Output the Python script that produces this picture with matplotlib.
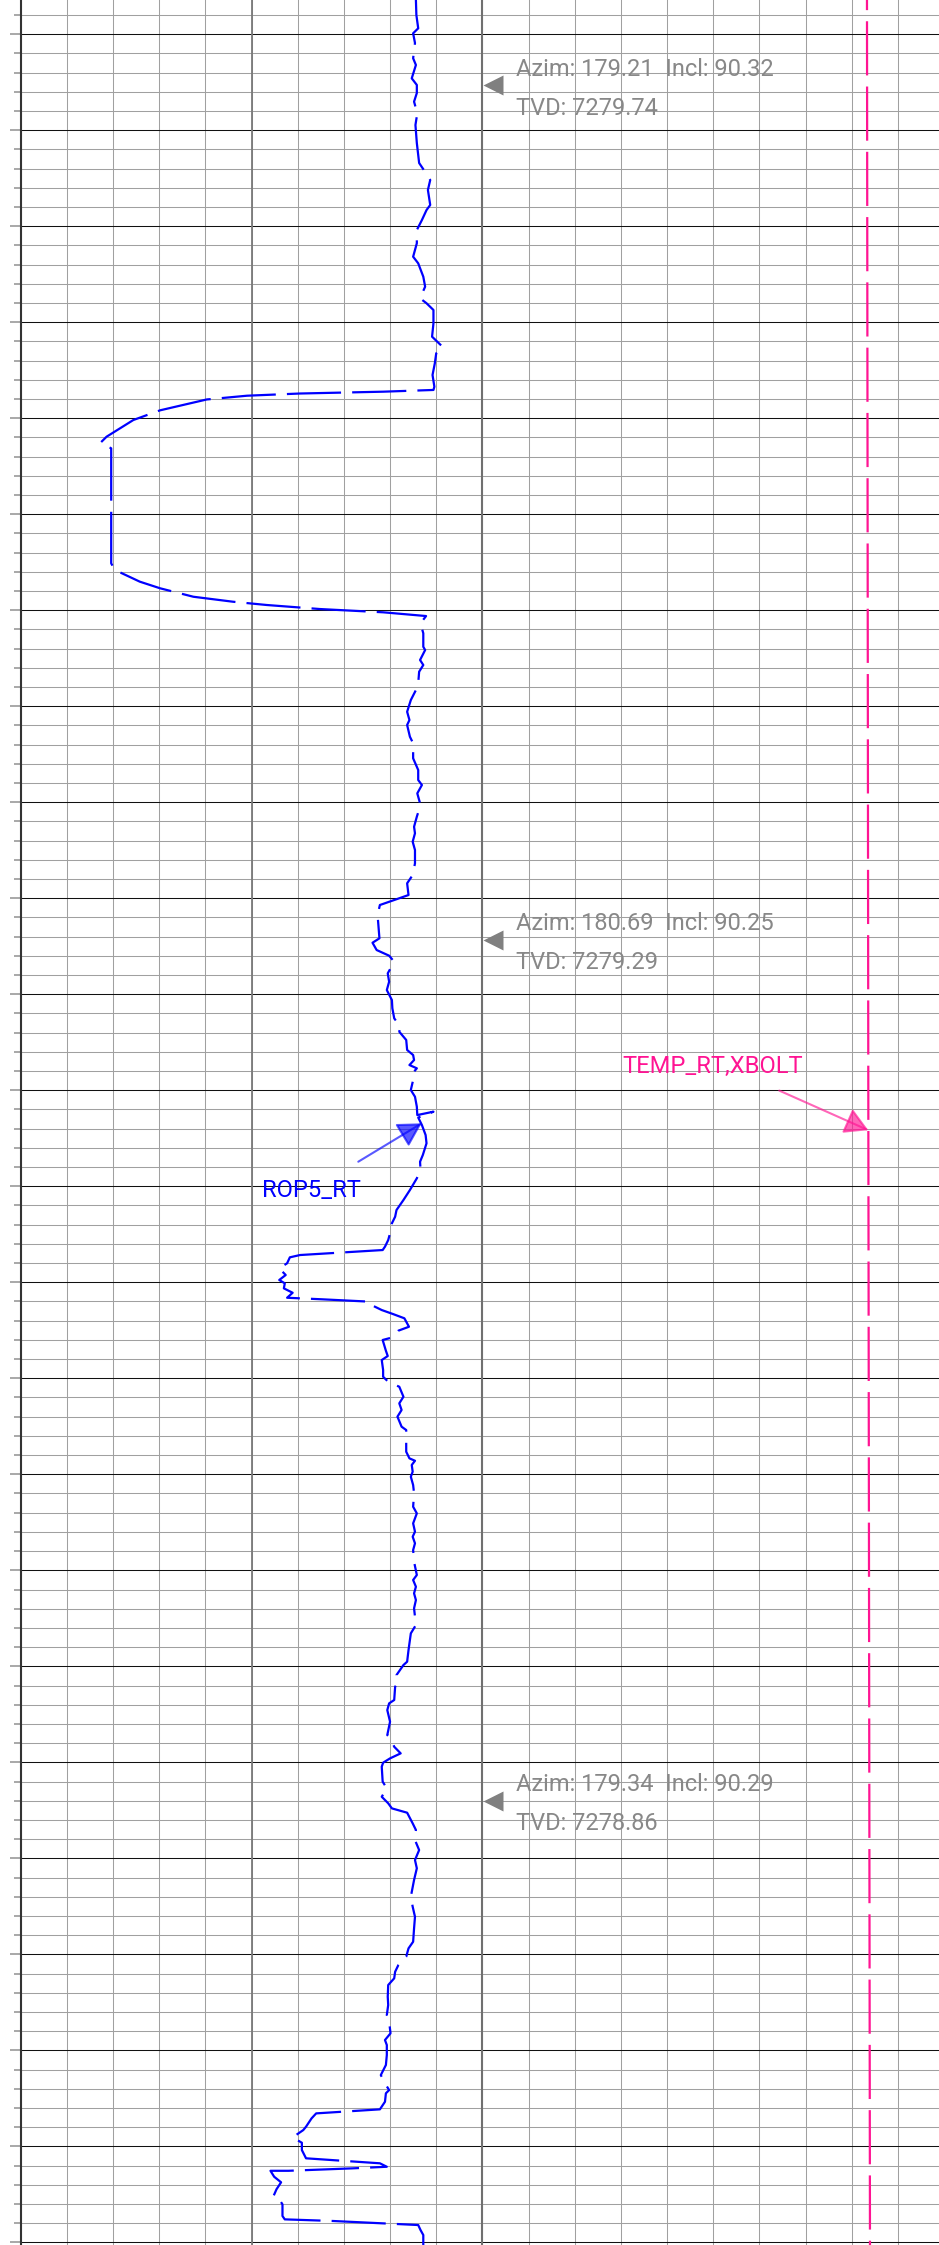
import matplotlib
matplotlib.use("Agg")
import matplotlib.pyplot as plt
from matplotlib.ticker import MultipleLocator
from matplotlib.transforms import offset_copy

plt.rcParams['font.family'] = ['Roboto', 'DejaVu Sans']
plt.rcParams['lines.scale_dashes'] = False

# measured depth (ft) / ROP5_RT (ft/hr)
rop_depth = [
    12336.43, 12337.99, 12339.38, 12339.90, 12340.91, 12342.50, 12343.20, 12344.59,
    12345.28, 12346.12, 12347.02, 12348.23, 12349.45, 12351.33, 12353.41, 12354.48,
    12355.18, 12356.22, 12357.78, 12358.31, 12359.35, 12360.39, 12361.77, 12363.17,
    12363.86, 12365.25, 12366.29, 12367.50, 12368.02, 12368.72, 12370.11, 12371.50,
    12372.61, 12373.23, 12374.27, 12375.49, 12376.71, 12377.05, 12377.23, 12377.42,
    12377.65, 12378.04, 12379.17, 12380.18, 12381.92, 12382.54, 12383.13, 12388.51,
    12393.38, 12395.11, 12395.80, 12397.02, 12397.71, 12398.59, 12399.11, 12399.45,
    12399.87, 12400.21, 12400.60, 12401.36, 12402.40, 12403.80, 12404.14, 12405.18,
    12405.70, 12406.40, 12407.61, 12408.31, 12409.35, 12410.57, 12411.43, 12411.95,
    12413.17, 12413.86, 12415.42, 12416.64, 12417.68, 12418.20, 12419.07, 12420.28,
    12421.50, 12422.55, 12423.23, 12424.11, 12424.97, 12426.36, 12427.58, 12428.44,
    12429.66, 12430.70, 12431.74, 12434.17, 12434.63, 12435.39, 12435.98, 12436.61,
    12437.82, 12438.69, 12439.56, 12440.60, 12441.46, 12442.50, 12443.38, 12443.90,
    12444.76, 12445.80, 12446.33, 12446.85, 12447.37, 12447.71, 12448.23, 12448.93,
    12449.97, 12450.67, 12451.71, 12452.58, 12452.23, 12452.84, 12453.62, 12454.66,
    12455.52, 12456.74, 12457.44, 12458.31, 12459.17, 12460.39, 12461.43, 12462.47,
    12463.17, 12463.86, 12464.90, 12465.60, 12466.29, 12466.64, 12467.09, 12467.16,
    12467.40, 12468.02, 12468.55, 12469.24, 12469.76, 12470.11, 12470.63, 12471.09,
    12471.61, 12471.77, 12472.02, 12472.47, 12472.89, 12473.30, 12473.75, 12474.63,
    12475.04, 12475.73, 12476.01, 12477.13, 12477.68, 12478.10, 12479.14, 12479.84,
    12480.36, 12480.88, 12481.92, 12482.61, 12483.30, 12484.00, 12485.04, 12485.39,
    12487.65, 12488.34, 12488.59, 12489.03, 12489.73, 12490.25, 12491.12, 12491.98,
    12493.38, 12494.07, 12495.11, 12495.98, 12496.50, 12497.19, 12497.89, 12499.11,
    12500.49, 12501.01, 12501.71, 12502.40, 12503.10, 12503.96, 12505.70, 12506.57,
    12508.31, 12509.52, 12509.87, 12510.91, 12511.77, 12512.13, 12513.51, 12513.86,
    12514.56, 12515.77, 12517.16, 12517.50, 12518.38, 12519.07, 12519.59, 12520.04,
    12520.46, 12522.02, 12522.71, 12523.59, 12524.27, 12524.80, 12525.25, 12526.36,
    12527.05, 12528.10, 12529.14, 12530.18, 12531.04, 12532.26, 12534.00, 12535.04,
    12536.09, 12537.30, 12538.69, 12539.38, 12540.25, 12541.12, 12541.82, 12542.50,
    12543.20, 12544.42, 12545.28, 12546.33, 12547.02, 12548.23, 12548.93, 12549.45,
    12550.49, 12551.53, 12552.58, 12553.44, 12554.14, 12554.48, 12555.36, 12556.15,
    12556.50, 12556.57, 12557.09, 12557.96, 12558.31, 12559.07, 12559.63, 12560.39,
    12561.25, 12561.61, 12561.77, 12562.13, 12562.30, 12562.55, 12562.55, 12563.17,
    12563.75, 12564.48, 12565.25, 12565.67, 12566.05, 12567.26, 12567.61, 12567.78,
    12568.10, 12568.20, 12568.72, 12569.24, 12570.28,
]
rop_value = [
    85.6, 85.7, 86.1, 85.0, 85.4, 85.0, 85.6, 84.7,
    85.8, 85.8, 85.2, 85.9, 85.5, 85.8, 86.3, 87.8,
    88.7, 88.2, 88.7, 87.9, 86.9, 85.8, 85.8, 85.0,
    86.1, 87.2, 87.6, 86.5, 87.9, 89.4, 89.4, 89.1,
    91.5, 90.0, 89.7, 89.2, 89.6, 89.4, 78.5, 60.5,
    49.0, 40.3, 30.2, 24.4, 18.6, 17.3, 19.6, 19.6,
    19.6, 19.6, 20.4, 25.8, 30.2, 37.4, 46.0, 53.3,
    64.8, 78.5, 87.8, 86.6, 87.2, 87.2, 87.6, 86.5,
    87.2, 86.3, 86.1, 85.6, 84.5, 83.7, 84.2, 83.7,
    84.3, 85.0, 85.0, 86.1, 86.1, 86.9, 85.9, 86.6,
    85.8, 85.2, 85.4, 84.9, 85.4, 85.4, 84.9, 83.7,
    84.0, 77.8, 77.3, 77.7, 76.2, 77.1, 79.8, 80.9,
    79.5, 79.8, 79.3, 80.4, 80.5, 80.9, 82.2, 82.0,
    83.5, 83.7, 85.0, 85.2, 84.2, 85.8, 84.9, 85.0,
    84.5, 85.4, 85.8, 85.9, 89.4, 86.1, 86.9, 87.7,
    87.9, 87.1, 86.5, 86.6, 85.8, 84.3, 82.9, 81.4,
    81.1, 80.4, 80.0, 79.6, 78.9, 78.4, 63.0, 60.5,
    58.3, 57.7, 56.0, 57.4, 56.0, 57.2, 57.0, 58.9,
    57.7, 65.2, 75.7, 76.4, 78.2, 80.6, 83.1, 84.1,
    81.8, 80.6, 78.4, 79.1, 79.5, 78.2, 78.5, 78.5,
    79.6, 82.0, 82.9, 82.0, 82.5, 81.6, 82.5, 83.5,
    83.5, 84.2, 85.4, 84.7, 84.9, 84.5, 85.0, 85.2,
    85.0, 85.8, 85.0, 85.4, 84.9, 85.4, 85.0, 85.2,
    85.8, 85.0, 85.6, 85.2, 85.6, 85.2, 85.6, 84.5,
    84.0, 83.7, 82.9, 81.4, 81.6, 81.1, 80.9, 79.8,
    79.4, 80.0, 79.4, 80.1, 80.9, 82.3, 80.0, 78.5,
    78.2, 78.4, 79.3, 78.2, 79.6, 80.4, 83.7, 84.9,
    85.6, 85.4, 86.3, 85.4, 85.8, 85.2, 84.5, 84.9,
    85.4, 85.2, 85.0, 84.0, 83.5, 81.8, 81.1, 80.9,
    79.6, 79.5, 79.6, 79.3, 79.8, 80.1, 78.9, 79.3,
    79.3, 79.1, 78.0, 78.9, 79.8, 79.1, 78.9, 77.8,
    66.6, 64.0, 63.0, 61.8, 61.2, 58.9, 60.9, 60.9,
    61.8, 73.1, 77.8, 79.3, 71.7, 58.0, 54.1, 54.9,
    56.4, 55.4, 54.7, 56.2, 56.7, 56.7, 57.2, 67.7,
    81.4, 86.1, 86.6, 87.2, 87.2,
]

# TEMP_RT,XBOLT (degF)
temp_depth = [12336.43, 12454.16, 12570.28]
temp_value = [233.3, 233.6, 233.95]

# survey stations
survey_depth = [12345.32, 12434.35, 12523.98]
survey_azim = [179.21, 180.69, 179.34]
survey_incl = [90.32, 90.25, 90.29]
survey_tvd = [7279.74, 7279.29, 7278.86]

depth_top, depth_bottom = 12336.43, 12570.28
rop_max = 198.9      # track border sits at 100 ft/hr
temp_min = 50.0      # temperature scale is offset by 50 from the ROP scale

blue = '#0000ff'
pink = '#ff1493'
grey_txt = '#888888'

fig = plt.figure(figsize=(9.39, 22.45), dpi=100)
ax = fig.add_axes([20.7 / 939, 0, 1 - 20.7 / 939, 1])
ax.set_xlim(0, rop_max)
ax.set_ylim(depth_bottom, depth_top)
ax.set_axisbelow(True)

# grid
ax.xaxis.set_major_locator(MultipleLocator(10))
ax.yaxis.set_major_locator(MultipleLocator(10))
ax.yaxis.set_minor_locator(MultipleLocator(2))
ax.grid(which='major', axis='x', color='#a0a0a0', lw=0.75)
ax.grid(which='major', axis='y', color='#111111', lw=0.75)
ax.grid(which='minor', axis='y', color='#a0a0a0', lw=0.75)
ax.axvline(50, color='#7a7a7a', lw=1.3, zorder=0.6)
ax.axvline(100, color='#707070', lw=1.5, zorder=0.6)

ax.tick_params(axis='x', length=0, labelbottom=False)
ax.tick_params(axis='y', which='major', direction='out', length=8.2, width=1.2,
               color='#999999', labelleft=False)
ax.tick_params(axis='y', which='minor', direction='out', length=5.3, width=1.2,
               color='#999999')
for side in ['top', 'right', 'bottom']:
    ax.spines[side].set_visible(False)
ax.spines['left'].set_color('#333333')
ax.spines['left'].set_linewidth(1.5)

# ROP curve
ax.plot(rop_value, rop_depth, color=blue, lw=1.6, zorder=3,
        linestyle=(5, (39, 8)))

ax.annotate('', xy=(86.85, 12453.44), xytext=(73.12, 12457.44),
            arrowprops=dict(arrowstyle='-|>,head_length=0.72,head_width=0.41',
                            color=blue, alpha=0.65, lw=1.5, shrinkA=0, shrinkB=0,
                            mutation_scale=20), zorder=4)
ax.text(52.33, 12461.09, 'ROP5_RT', color=blue, fontsize=17,
        ha='left', va='baseline', zorder=4)

# survey markers on the track border
marker_tr = offset_copy(ax.transData, fig=fig, x=7.5, y=0, units='points')
for d, az, inc, tvd in zip(survey_depth, survey_azim, survey_incl, survey_tvd):
    ax.plot([100], [d], marker='<', ms=15, color='#808080', mec='none',
            transform=marker_tr, zorder=4, clip_on=False)
    ax.annotate(f'Azim: {az:.2f}  Incl: {inc:.2f}', xy=(100, d), xytext=(24.3, 7.0),
                textcoords='offset points', ha='left', va='baseline',
                color=grey_txt, fontsize=17, zorder=4)
    ax.annotate(f'TVD: {tvd:.2f}', xy=(100, d), xytext=(24.3, -21.2),
                textcoords='offset points', ha='left', va='baseline',
                color=grey_txt, fontsize=17, zorder=4)

# temperature track on its own x scale
tax = ax.twiny()
tax.set_xlim(temp_min, temp_min + rop_max)
tax.set_ylim(depth_bottom, depth_top)
tax.axis('off')
tax.plot(temp_value, temp_depth, color=pink, lw=1.6, zorder=3,
         linestyle=(31.7, (39, 8)))

tax.annotate('', xy=(233.6, 12454.16), xytext=(214.3, 12450.03),
             arrowprops=dict(arrowstyle='-|>,head_length=0.72,head_width=0.41',
                             color=pink, alpha=0.65, lw=1.5, shrinkA=0, shrinkB=0,
                             mutation_scale=20), zorder=4)
tax.text(180.4, 12448.24, 'TEMP_RT,XBOLT', color=pink, fontsize=17,
         ha='left', va='baseline', zorder=4)

fig.savefig('out.png', dpi=100)
